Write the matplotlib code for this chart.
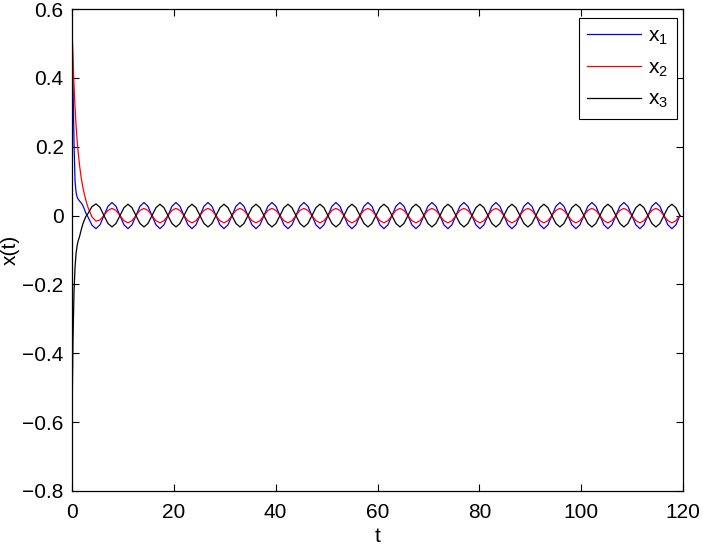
import numpy as np
import matplotlib.pyplot as plt

plt.rcParams['font.family'] = ['Liberation Sans', 'DejaVu Sans']
plt.rcParams['mathtext.fontset'] = 'custom'
plt.rcParams['mathtext.rm'] = 'Liberation Sans'

# transient part
t_start = [0.0, 0.2, 0.4, 0.6, 0.8, 1.0, 1.2, 1.5, 1.8, 2.1, 2.4, 2.75]
x1_start = [0.58, 0.38, 0.21, 0.10, 0.068, 0.054, 0.048, 0.042, 0.037, 0.030, 0.020, 0.006]
x2_start = [0.55, 0.454, 0.377, 0.314, 0.262, 0.220, 0.186, 0.144, 0.111, 0.085, 0.064, 0.043]
x3_start = [-0.60, -0.36, -0.22, -0.15, -0.11, -0.088, -0.074, -0.060, -0.042, -0.026, -0.014, -0.002]

# oscillating part, sampled every pi/4 from t = pi on (8 samples per cycle)
t_steady = np.arange(4, 153) * np.pi / 4

x1_steady = [
    -0.004, -0.028, -0.038, -0.027,
    0.0, 0.027, 0.038, 0.027, 0.0, -0.027, -0.038, -0.027,
    0.0, 0.027, 0.038, 0.027, 0.0, -0.027, -0.038, -0.027,
    0.0, 0.027, 0.038, 0.027, 0.0, -0.027, -0.038, -0.027,
    0.0, 0.027, 0.038, 0.027, 0.0, -0.027, -0.038, -0.027,
    0.0, 0.027, 0.038, 0.027, 0.0, -0.027, -0.038, -0.027,
    0.0, 0.027, 0.038, 0.027, 0.0, -0.027, -0.038, -0.027,
    0.0, 0.027, 0.038, 0.027, 0.0, -0.027, -0.038, -0.027,
    0.0, 0.027, 0.038, 0.027, 0.0, -0.027, -0.038, -0.027,
    0.0, 0.027, 0.038, 0.027, 0.0, -0.027, -0.038, -0.027,
    0.0, 0.027, 0.038, 0.027, 0.0, -0.027, -0.038, -0.027,
    0.0, 0.027, 0.038, 0.027, 0.0, -0.027, -0.038, -0.027,
    0.0, 0.027, 0.038, 0.027, 0.0, -0.027, -0.038, -0.027,
    0.0, 0.027, 0.038, 0.027, 0.0, -0.027, -0.038, -0.027,
    0.0, 0.027, 0.038, 0.027, 0.0, -0.027, -0.038, -0.027,
    0.0, 0.027, 0.038, 0.027, 0.0, -0.027, -0.038, -0.027,
    0.0, 0.027, 0.038, 0.027, 0.0, -0.027, -0.038, -0.027,
    0.0, 0.027, 0.038, 0.027, 0.0, -0.027, -0.038, -0.027,
    0.0, 0.027, 0.038, 0.027, 0.0, -0.027, -0.038, -0.027,
    0.0,
]
x2_steady = [
    0.024, -0.004, -0.016, -0.013,
    0.001, 0.015, 0.021, 0.015, 0.0, -0.015, -0.021, -0.015,
    0.0, 0.015, 0.021, 0.015, 0.0, -0.015, -0.021, -0.015,
    0.0, 0.015, 0.021, 0.015, 0.0, -0.015, -0.021, -0.015,
    0.0, 0.015, 0.021, 0.015, 0.0, -0.015, -0.021, -0.015,
    0.0, 0.015, 0.021, 0.015, 0.0, -0.015, -0.021, -0.015,
    0.0, 0.015, 0.021, 0.015, 0.0, -0.015, -0.021, -0.015,
    0.0, 0.015, 0.021, 0.015, 0.0, -0.015, -0.021, -0.015,
    0.0, 0.015, 0.021, 0.015, 0.0, -0.015, -0.021, -0.015,
    0.0, 0.015, 0.021, 0.015, 0.0, -0.015, -0.021, -0.015,
    0.0, 0.015, 0.021, 0.015, 0.0, -0.015, -0.021, -0.015,
    0.0, 0.015, 0.021, 0.015, 0.0, -0.015, -0.021, -0.015,
    0.0, 0.015, 0.021, 0.015, 0.0, -0.015, -0.021, -0.015,
    0.0, 0.015, 0.021, 0.015, 0.0, -0.015, -0.021, -0.015,
    0.0, 0.015, 0.021, 0.015, 0.0, -0.015, -0.021, -0.015,
    0.0, 0.015, 0.021, 0.015, 0.0, -0.015, -0.021, -0.015,
    0.0, 0.015, 0.021, 0.015, 0.0, -0.015, -0.021, -0.015,
    0.0, 0.015, 0.021, 0.015, 0.0, -0.015, -0.021, -0.015,
    0.0, 0.015, 0.021, 0.015, 0.0, -0.015, -0.021, -0.015,
    0.0,
]
x3_steady = [
    0.006, 0.026, 0.034, 0.024,
    0.0, -0.023, -0.033, -0.023, 0.0, 0.023, 0.033, 0.023,
    0.0, -0.023, -0.033, -0.023, 0.0, 0.023, 0.033, 0.023,
    0.0, -0.023, -0.033, -0.023, 0.0, 0.023, 0.033, 0.023,
    0.0, -0.023, -0.033, -0.023, 0.0, 0.023, 0.033, 0.023,
    0.0, -0.023, -0.033, -0.023, 0.0, 0.023, 0.033, 0.023,
    0.0, -0.023, -0.033, -0.023, 0.0, 0.023, 0.033, 0.023,
    0.0, -0.023, -0.033, -0.023, 0.0, 0.023, 0.033, 0.023,
    0.0, -0.023, -0.033, -0.023, 0.0, 0.023, 0.033, 0.023,
    0.0, -0.023, -0.033, -0.023, 0.0, 0.023, 0.033, 0.023,
    0.0, -0.023, -0.033, -0.023, 0.0, 0.023, 0.033, 0.023,
    0.0, -0.023, -0.033, -0.023, 0.0, 0.023, 0.033, 0.023,
    0.0, -0.023, -0.033, -0.023, 0.0, 0.023, 0.033, 0.023,
    0.0, -0.023, -0.033, -0.023, 0.0, 0.023, 0.033, 0.023,
    0.0, -0.023, -0.033, -0.023, 0.0, 0.023, 0.033, 0.023,
    0.0, -0.023, -0.033, -0.023, 0.0, 0.023, 0.033, 0.023,
    0.0, -0.023, -0.033, -0.023, 0.0, 0.023, 0.033, 0.023,
    0.0, -0.023, -0.033, -0.023, 0.0, 0.023, 0.033, 0.023,
    0.0, -0.023, -0.033, -0.023, 0.0, 0.023, 0.033, 0.023,
    0.0,
]

xticks = [0, 20, 40, 60, 80, 100, 120]
yticks = [-0.8, -0.6, -0.4, -0.2, 0, 0.2, 0.4, 0.6]
ytick_labels = ['\u22120.8', '\u22120.6', '\u22120.4', '\u22120.2', '0', '0.2', '0.4', '0.6']
labels = ['$\\mathregular{x_1}$', '$\\mathregular{x_2}$', '$\\mathregular{x_3}$']

t = np.concatenate([t_start, t_steady])
x1 = np.concatenate([x1_start, x1_steady])
x2 = np.concatenate([x2_start, x2_steady])
x3 = np.concatenate([x3_start, x3_steady])

fig = plt.figure(figsize=(7.03, 5.47), dpi=100)
ax = fig.add_axes([0.1024, 0.1024, 0.8692, 0.8811])
ax.plot(t, x1, color='#0000ff', lw=0.9, label=labels[0])
ax.plot(t, x2, color='#ff0000', lw=0.9, label=labels[1])
ax.plot(t, x3, color='black', lw=0.9, label=labels[2])

ax.set_xlim(0, 120)
ax.set_ylim(-0.8, 0.6)
ax.set_xticks(xticks)
ax.set_yticks(yticks)
ax.set_yticklabels(ytick_labels)
ax.tick_params(direction='in', top=True, right=True, length=5, width=0.8,
               labelsize=15)
ax.tick_params(axis='x', pad=9)
ax.tick_params(axis='y', pad=6)
for s in ax.spines.values():
    s.set_linewidth(0.9)

ax.set_xlabel('t', fontsize=15, labelpad=3)
ax.set_ylabel('x(t)', fontsize=15, labelpad=2)

leg = ax.legend(loc='upper right', bbox_to_anchor=(0.990, 0.981), borderaxespad=0,
                fontsize=15, handlelength=2.6, handletextpad=0.35,
                fancybox=False, framealpha=1, edgecolor='black',
                labelspacing=0.55, borderpad=0.4)
leg.get_frame().set_linewidth(0.8)

fig.savefig('out.png', dpi=100)
